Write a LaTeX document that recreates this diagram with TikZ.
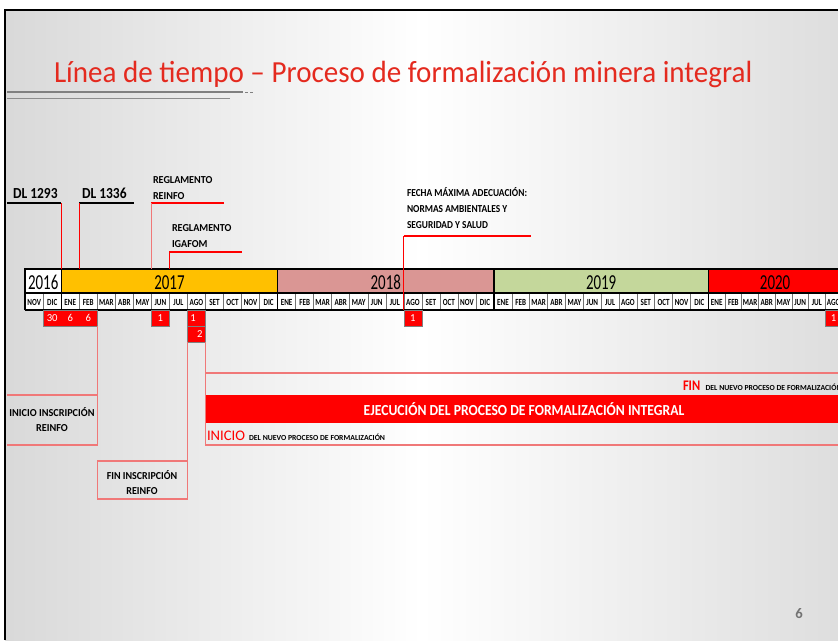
\documentclass[tikz,border=0pt]{standalone}
\usepackage{fontspec}
\setmainfont{Carlito}
\definecolor{c17}{HTML}{FFC000}
\definecolor{c18}{HTML}{DA9694}
\definecolor{c19}{HTML}{C4D79B}
\definecolor{c20}{HTML}{FF0000}
\definecolor{titred}{HTML}{E42A1F}
\definecolor{lred}{HTML}{F07878}
\newcommand{\sq}[2][0.85]{\scalebox{#1}[1]{#2}}
\pgfmathdeclarefunction{mx}{1}{\pgfmathparse{(#1<=26)*(25.2+#1*18.03)+and(#1>26,#1<=38)*(494+(#1-26)*17.86)+(#1>38)*(708.3+(#1-38)*16.7)}}
\begin{document}
\begin{tikzpicture}[x=0.75pt,y=-0.75pt,
  every node/.style={inner sep=0pt, outer sep=0pt},
  mcell/.style={draw=black!55, line width=0.4pt, fill=white},
  mtxt/.style={font=\fontsize{7}{7}\selectfont\bfseries},
  ycell/.style={draw=black, line width=0.8pt},
  ytxt/.style={font=\fontsize{16}{16}\selectfont},
  lbl/.style={font=\fontsize{8}{12}\selectfont\bfseries, align=left, anchor=north west},
  dltxt/.style={font=\fontsize{11.5}{12}\selectfont\bfseries, anchor=base west},
  mkbox/.style={fill=red, draw=black!50, line width=0.4pt},
  mnum/.style={font=\fontsize{8}{8}\selectfont, text=white},
  conn/.style={draw=red, line width=0.8pt},
  lconn/.style={draw=lred, line width=0.8pt},
  blk/.style={draw=black, line width=1.1pt},
  boxtxt/.style={font=\fontsize{8}{11.3}\selectfont\bfseries, align=center},
]
\clip (0,0) rectangle (838,640);
\fill[white] (0,0) rectangle (838,640);
\shade[left color=black!15, right color=black!13, middle color=white] (5,10) rectangle (838,640);
\draw[black, line width=1.6pt] (5,640) -- (5,10) -- (838,10);

% title
\node[anchor=base west, text=titred, font=\fontsize{23}{23}\selectfont] (title) at (54,82)
  {\sq[0.948]{Línea de tiempo – Proceso de formalización minera integral}};
\draw[black!50, line width=1.3pt] (7,92.3) -- (243,92.3);
\draw[black!50, line width=1pt, dash pattern=on 2pt off 2pt] (245,92.3) -- (254,92.3);
\draw[black!45, line width=0.8pt] (7,98.3) -- (230,98.3);

% year row
\foreach \a/\b/\c/\t/\n in {0/2/white/2016/y16, 2/14/c17/2017/y17, 14/26/c18/2018/y18, 26/38/c19/2019/y19, 38/46/c20/2020/y20}{
  \draw[ycell, fill=\c] ({mx(\a)},269) rectangle ({mx(\b)},293);
  \node[ytxt] (\n) at ({(mx(\a)+mx(\b))/2},282.5) {\sq[0.7]{\t}};
}
% month row
\foreach \m [count=\i from 0] in {NOV,DIC,ENE,FEB,MAR,ABR,MAY,JUN,JUL,AGO,SET,OCT,NOV,DIC,ENE,FEB,MAR,ABR,MAY,JUN,JUL,AGO,SET,OCT,NOV,DIC,ENE,FEB,MAR,ABR,MAY,JUN,JUL,AGO,SET,OCT,NOV,DIC,ENE,FEB,MAR,ABR,MAY,JUN,JUL,AGO,SET,OCT}{
  \draw[mcell] ({mx(\i)},293) rectangle ({mx(\i+1)},310);
  \node[mtxt] (m\i) at ({(mx(\i)+mx(\i+1))/2},302.5) {\sq[0.76]{\m}};
}
\draw[black, line width=1.2pt] ({mx(0)},310) -- ({mx(0)},269) -- (850,269);
\draw[black, line width=1.2pt] ({mx(0)},310) -- (850,310);
\draw[black, line width=0.9pt] ({mx(0)},293) -- (850,293);
\foreach \k in {2,14,26,38}{\draw[black, line width=0.9pt] ({mx(\k)},269) -- ({mx(\k)},310);}
\coordinate (ttop) at (0,269);

% top labels
\node[dltxt] (dl1) at (13,198) {\sq[0.88]{DL 1293}};
\coordinate (dl1e) at ({mx(2)},203);
\draw[blk] (7,203) -- (dl1e);
\draw[conn] (dl1e) -- (dl1e |- ttop);

\node[dltxt] (dl2) at (82,198) {\sq[0.88]{DL 1336}};
\coordinate (dl2s) at ({mx(3)},203);
\coordinate (dl2e) at (134,203);
\draw[blk] (dl2s) -- (dl2e);
\draw[conn] (dl2s) -- (dl2s |- ttop);

\node[lbl] (rr) at (153,176) {\sq[0.95]{REGLAMENTO}\\\sq[0.95]{REINFO}};
\coordinate (rrs) at ({mx(7)},203);
\coordinate (rre) at (224,203);
\draw[conn] (rrs) -- (rre);
\draw[lconn] (rrs) -- (rrs |- ttop);

\node[lbl] (ri) at (172,224) {\sq[0.95]{REGLAMENTO}\\\sq[0.95]{IGAFOM}};
\coordinate (ris) at ({mx(8)},252);
\coordinate (rie) at (242,252);
\draw[conn] (ris) -- (rie);
\draw[conn] (ris) -- (ris |- ttop);

\node[lbl] (fm) at (407,188) {\sq[0.88]{FECHA MÁXIMA ADECUACIÓN:}\\\sq[0.88]{NORMAS AMBIENTALES Y}\\\sq[0.88]{SEGURIDAD Y SALUD}};
\coordinate (fms) at ({mx(21)},236);
\coordinate (fme) at (531,236);
\draw[conn] (fms) -- (fme);
\draw[conn] (fms) -- ({mx(21)},310);

% markers
\path[mkbox] ({mx(1)},310) rectangle ({mx(4)},326);
\node[mnum] (n30) at ({(mx(1)+mx(2))/2},318) {30};
\node[mnum] (n6a) at ({(mx(2)+mx(3))/2},318) {6};
\node[mnum] (n6b) at ({(mx(3)+mx(4))/2},318) {6};
\path[mkbox] ({mx(7)},310) rectangle ({mx(8)},326);
\node[mnum] (n1a) at ({(mx(7)+mx(8))/2},318) {1};
\path[mkbox] ({mx(9)},310) rectangle ({mx(10)},326);
\node[mnum, anchor=west] (n1b) at ({mx(9)+3},318) {1};
\path[mkbox] ({mx(9)},326) rectangle ({mx(10)},342);
\node[mnum, anchor=east] (n2) at ({mx(10)-3},334) {2};
\path[mkbox] ({mx(21)},310) rectangle ({mx(22)},326);
\node[mnum] (n1c) at ({(mx(21)+mx(22))/2},318) {1};
\path[mkbox] ({mx(45)},310) rectangle ({mx(46)},326);
\node[mnum] (n1d) at ({(mx(45)+mx(46))/2},318) {1};

% inicio inscripcion
\coordinate (b1) at ({mx(4)},326);
\draw[lconn] (b1) -- ({mx(4)},445) -- (7,445);
\draw[lconn] (7,395) -- ({mx(4)},395);
\node[boxtxt] (ii) at (52,420) {\sq[0.96]{INICIO INSCRIPCIÓN}\\\sq[0.96]{REINFO}};

% fin inscripcion
\coordinate (b2) at ({mx(9)},342);
\draw[lconn] (b2) -- ({mx(9)},461);
\draw[lconn] ({mx(4)},461) rectangle ({mx(9)},499);
\node[boxtxt] (fi) at (142,483) {\sq[0.94]{FIN INSCRIPCIÓN}\\\sq[0.94]{REINFO}};

% ejecucion
\coordinate (b3) at ({mx(10)},342);
\draw[lconn] (b3) -- ({mx(10)},445) -- (850,445);
\draw[lconn] ({mx(10)},373) -- (850,373);
\fill[red] ({mx(10)},395) rectangle (845,423);
\node[font=\fontsize{11.5}{12}\selectfont\bfseries, text=white] (ej) at (524,409.5)
  {\sq[0.89]{EJECUCIÓN DEL PROCESO DE FORMALIZACIÓN INTEGRAL}};
\node[anchor=base west] (fin) at (683,390)
  {{\color{red}\fontsize{11}{12}\selectfont\bfseries\sq{FIN}}\hspace{4pt}{\fontsize{5.8}{6}\selectfont\bfseries DEL NUEVO PROCESO DE FORMALIZACIÓN}};
\node[anchor=base west] (ini) at (207,440)
  {{\color{red}\fontsize{11}{12}\selectfont INICIO}\hspace{3pt}{\fontsize{5.8}{6}\selectfont\bfseries DEL NUEVO PROCESO DE FORMALIZACIÓN}};

% page number
\node[font=\fontsize{11}{11}\selectfont\bfseries, text=black!55] (pg) at (799,614) {6};
\end{tikzpicture}
\end{document}
